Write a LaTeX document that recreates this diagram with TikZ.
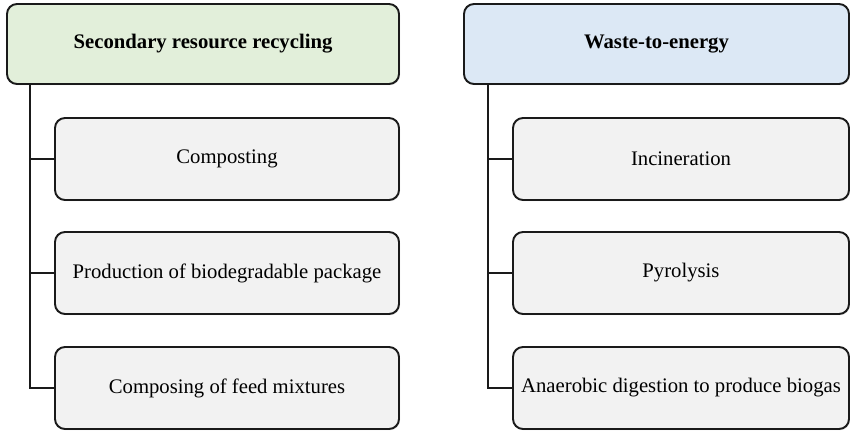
\documentclass[tikz,border=0pt]{standalone}
\usepackage{fontspec}
\setmainfont{Liberation Serif}
\usetikzlibrary{shadows}
\definecolor{pgreen}{HTML}{E2EFDA}
\definecolor{pblue}{HTML}{DCE8F5}
\definecolor{cgray}{HTML}{F2F2F2}
\definecolor{edge}{HTML}{1A1A1A}
\tikzset{
  box/.style={draw=edge, line width=1.9pt, rounded corners=10pt, inner sep=0pt,
    font=\fontsize{20.7}{24}\selectfont,
    drop shadow={opacity=0.25, shadow xshift=1pt, shadow yshift=-1.2pt}},
  parentbox/.style={box, font=\fontsize{20.7}{24}\selectfont\bfseries},
  childbox/.style={box, fill=cgray, minimum height=82pt},
  link/.style={draw=edge, line width=2pt}
}
\begin{document}
\begin{tikzpicture}[x=1pt,y=-1pt]
\useasboundingbox (0,0) rectangle (850,431);
% left group
\node[parentbox, fill=pgreen, minimum width=392pt, minimum height=80pt] (lp) at (203,44) {Secondary resource recycling};
\node[childbox, minimum width=344pt] (lc1) at (227,159) {Composting};
\node[childbox, minimum width=344pt] (lc2) at (227,273) {Production of biodegradable package};
\node[childbox, minimum width=344pt] (lc3) at (227,388) {Composing of feed mixtures};
\coordinate (lt) at (30,84);
\draw[link] (lt) |- (lc3.west);
\draw[link] (lt |- lc1.west) -- (lc1.west);
\draw[link] (lt |- lc2.west) -- (lc2.west);
% right group
\node[parentbox, fill=pblue, minimum width=385pt, minimum height=80pt] (rp) at (656.5,44) {Waste-to-energy};
\node[childbox, minimum width=336pt] (rc1) at (681,159) {Incineration};
\node[childbox, minimum width=336pt] (rc2) at (681,273) {Pyrolysis};
\node[childbox, minimum width=336pt] (rc3) at (681,388) {Anaerobic digestion to produce biogas};
\coordinate (rt) at (488,84);
\draw[link] (rt) |- (rc3.west);
\draw[link] (rt |- rc1.west) -- (rc1.west);
\draw[link] (rt |- rc2.west) -- (rc2.west);
\end{tikzpicture}
\end{document}
